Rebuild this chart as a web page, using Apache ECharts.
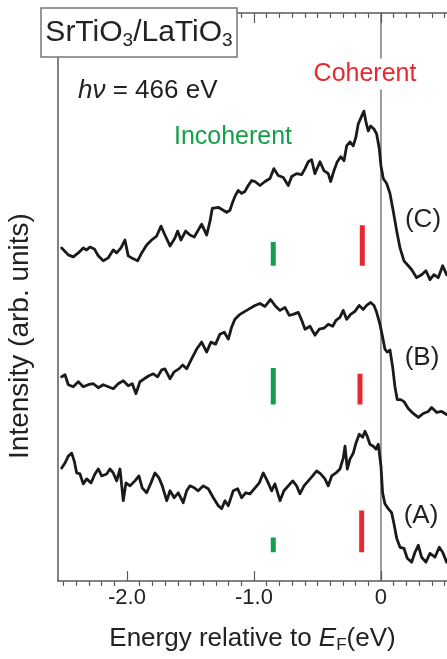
<!DOCTYPE html>
<html><head><meta charset="utf-8">
<script src="https://cdn.jsdelivr.net/npm/echarts@6/dist/echarts.min.js"></script>
<style>html,body{margin:0;padding:0;background:#fff}#c{width:447px;height:659px}</style>
</head><body><div id="c"></div>
<script>
// ---- axis ticks (eV) ----
const majorTicks = [-2, -1, 0];
const tickLabels = ['-2.0', '-1.0', '0'];
const minorTicks = [-2.5,-2.4,-2.3,-2.2,-2.1,-1.9,-1.8,-1.7,-1.6,-1.5,-1.4,-1.3,-1.2,-1.1,-0.9,-0.8,-0.7,-0.6,-0.5,-0.4,-0.3,-0.2,-0.1,0.1,0.2,0.3,0.4,0.5];
const energyMin = -2.543, energyMax = 0.52;
const intensityMin = 0, intensityMax = 573;

// ---- spectrum (C) ----
const cEnergy = [-2.514,-2.462,-2.423,-2.383,-2.344,-2.317,-2.291,-2.257,-2.226,-2.187,
-2.147,-2.108,-2.081,-2.047,-2.016,-1.990,-1.950,-1.916,-1.884,-1.845,
-1.806,-1.766,-1.732,-1.701,-1.661,-1.622,-1.601,-1.575,-1.538,-1.504,
-1.470,-1.439,-1.412,-1.372,-1.346,-1.328,-1.281,-1.242,-1.215,-1.189,
-1.171,-1.150,-1.124,-1.097,-1.071,-1.045,-1.018,-0.992,-0.953,-0.913,
-0.874,-0.843,-0.809,-0.769,-0.730,-0.703,-0.664,-0.624,-0.598,-0.572,
-0.546,-0.520,-0.480,-0.449,-0.415,-0.396,-0.370,-0.344,-0.317,-0.291,
-0.270,-0.244,-0.218,-0.197,-0.179,-0.152,-0.134,-0.118,-0.100,-0.081,
-0.055,-0.034,-0.013,0.000,0.018,0.045,0.071,0.097,0.124,0.150,
0.181,0.215,0.242,0.281,0.320,0.354,0.386,0.417,0.451,0.486,0.517];
const cIntensity = [336,329,327,331,336,334,337,335,328,323,
326,334,331,336,344,328,325,323,331,339,
344,348,358,349,338,346,353,344,353,349,
347,354,360,349,363,376,377,374,372,374,
381,388,394,391,393,399,404,403,399,403,
406,416,409,407,399,408,411,410,416,423,
425,411,423,414,411,403,414,423,428,424,
439,443,439,448,461,469,474,463,454,459,
456,451,436,419,406,401,391,373,353,336,
323,318,314,306,309,313,304,309,306,318,309];

// ---- spectrum (B) ----
const bEnergy = [-2.514,-2.488,-2.462,-2.423,-2.383,-2.344,-2.305,-2.265,-2.226,-2.187,
-2.147,-2.108,-2.069,-2.029,-1.990,-1.958,-1.929,-1.898,-1.864,-1.827,
-1.793,-1.758,-1.727,-1.701,-1.661,-1.628,-1.591,-1.561,-1.530,-1.491,
-1.451,-1.412,-1.372,-1.339,-1.302,-1.268,-1.234,-1.202,-1.176,-1.150,
-1.110,-1.071,-1.031,-0.992,
-0.953,-0.913,-0.869,-0.835,-0.795,-0.756,-0.722,-0.691,-0.651,-0.624,
-0.598,-0.559,-0.520,-0.486,-0.449,-0.415,-0.380,-0.354,-0.323,-0.297,
-0.270,-0.239,-0.205,-0.171,-0.139,-0.113,-0.081,-0.055,-0.034,-0.008,
0.013,0.031,0.050,0.071,0.092,0.110,0.128,0.155,0.181,0.215,
0.254,0.294,0.333,0.372,0.399,0.439,0.478,0.517];
const bIntensity = [206,208,198,196,201,196,198,199,195,198,
196,194,199,202,197,199,189,201,204,207,
209,206,213,214,204,211,214,218,214,224,
234,241,231,241,239,249,251,244,256,264,
269,272,275,278,
280,277,284,278,273,276,268,269,271,263,
254,257,248,254,255,259,257,263,266,273,
264,269,272,278,274,278,281,278,271,259,
246,234,231,233,216,196,183,183,181,174,
169,165,169,171,175,170,171,168];

// ---- spectrum (A) ----
const aEnergy = [-2.514,-2.488,-2.462,-2.435,-2.415,-2.396,-2.370,-2.344,-2.317,-2.283,
-2.252,-2.226,-2.199,-2.160,-2.134,-2.108,-2.081,-2.055,-2.029,-2.008,
-1.976,-1.937,-1.906,-1.880,-1.845,-1.811,-1.780,-1.748,-1.722,-1.687,
-1.661,-1.628,-1.596,-1.557,-1.530,-1.504,-1.470,-1.439,-1.399,-1.360,
-1.320,-1.281,-1.254,-1.228,-1.202,-1.163,-1.128,-1.097,-1.065,-1.031,-0.998,
-0.958,-0.927,-0.895,-0.861,-0.835,-0.795,-0.764,-0.730,-0.695,-0.664,
-0.638,-0.606,-0.572,-0.538,-0.506,-0.475,-0.441,-0.415,-0.388,-0.354,
-0.323,-0.297,-0.283,-0.265,-0.244,-0.218,-0.197,-0.171,-0.144,-0.126,
-0.108,-0.087,-0.061,-0.039,-0.021,-0.008,0.000,0.013,0.031,0.057,
0.084,0.102,0.124,0.150,0.181,0.207,0.242,0.268,0.294,0.320,
0.354,0.386,0.425,0.459,0.486,0.517];
const aIntensity = [114,119,126,129,121,109,108,98,103,99,
108,113,106,108,113,109,101,113,81,99,
96,101,106,94,89,99,109,104,96,81,
91,84,89,79,91,96,94,91,96,93,
84,76,73,81,76,91,93,84,89,88,93,
99,109,101,91,98,81,91,96,101,96,
88,96,101,106,111,108,103,96,106,109,
113,124,136,113,123,129,139,148,145,151,
146,138,136,133,138,139,116,89,78,73,
69,58,43,34,33,23,19,29,36,24,
19,28,24,34,29,19];

// ---- marker bars (energy, low, high) ----
const incoherentEnergy = -0.848;
const coherentEnergy = { A: -0.152, B: -0.165, C: -0.147 };
const incoherentRange = { A: [29, 44], B: [178, 215], C: [318, 342] };
const coherentRange = { A: [29, 71], B: [178, 209], C: [318, 359] };

const FONT = "'Liberation Sans', Arial, Helvetica, sans-serif";
const GREEN = '#14a04a', RED = '#e6282f', INK = '#1a1a1a', AXIS = '#5a5a5a';

function pairs(e, v) { return e.map((x, k) => [x, v[k]]); }

const spectrumStyle = { color: INK, width: 2.8, join: 'round', cap: 'round' };
function spectrum(name, e, v) {
  return { name, type: 'line', xAxisIndex: 0, yAxisIndex: 0, data: pairs(e, v),
    symbol: 'none', showSymbol: false, lineStyle: spectrumStyle, z: 3, silent: true };
}
function bar(name, x, r, color) {
  return { name, type: 'line', xAxisIndex: 0, yAxisIndex: 0, data: [[x, r[0]], [x, r[1]]],
    symbol: 'none', lineStyle: { color, width: 5, cap: 'butt' }, z: 2, silent: true };
}

const series = [
  { name: 'EF', type: 'line', xAxisIndex: 0, yAxisIndex: 0, data: [[0, intensityMin], [0, intensityMax]],
    symbol: 'none', lineStyle: { color: AXIS, width: 1.2 }, z: 1, silent: true },
  spectrum('C', cEnergy, cIntensity),
  spectrum('B', bEnergy, bIntensity),
  spectrum('A', aEnergy, aIntensity)
];
['A', 'B', 'C'].forEach(k => {
  series.push(bar('inc' + k, incoherentEnergy, incoherentRange[k], GREEN));
  series.push(bar('coh' + k, coherentEnergy[k], coherentRange[k], RED));
});

const gridRect = { left: 58, right: 0, top: 13, bottom: 73 };
function xAx(grid, pos, ticks, len, line, labels) {
  const ax = { type: 'value', gridIndex: grid, position: pos, min: energyMin, max: energyMax,
    axisLine: { show: line, onZero: false, lineStyle: { color: AXIS, width: 1.5 } },
    axisTick: { show: true, inside: true, length: len, customValues: ticks, lineStyle: { color: AXIS, width: 1.2 } },
    axisLabel: { show: false }, splitLine: { show: false } };
  if (labels) {
    ax.axisLabel = { show: true, customValues: majorTicks, margin: 6, fontSize: 22, fontFamily: FONT, color: '#222',
      formatter: v => { const i = majorTicks.findIndex(t => Math.abs(t - v) < 1e-6); return i >= 0 ? tickLabels[i] : ''; } };
    ax.name = '{n|Energy relative to }{i|E}{s|F}{n|(eV)}';
    ax.nameLocation = 'middle';
    ax.nameGap = 43;
    ax.nameTextStyle = { rich: {
      n: { fontSize: 26, fontFamily: FONT, color: '#222', lineHeight: 30 },
      i: { fontSize: 26, fontFamily: FONT, color: '#222', fontStyle: 'italic', lineHeight: 30 },
      s: { fontSize: 17, fontFamily: FONT, color: '#222', lineHeight: 12, verticalAlign: 'bottom' } } };
  }
  return ax;
}

const option = {
  animation: false,
  backgroundColor: '#fff',
  grid: [Object.assign({}, gridRect), Object.assign({}, gridRect)],
  xAxis: [
    xAx(0, 'bottom', majorTicks, 10, true, true),
    xAx(0, 'top', majorTicks, 10, true, false),
    xAx(1, 'bottom', minorTicks, 5, false, false),
    xAx(1, 'top', minorTicks, 5, false, false)
  ],
  yAxis: [
    { type: 'value', gridIndex: 0, min: intensityMin, max: intensityMax,
      axisLine: { show: true, onZero: false, lineStyle: { color: AXIS, width: 1.5 } },
      axisTick: { show: false }, axisLabel: { show: false }, splitLine: { show: false } },
    { type: 'value', gridIndex: 1, min: intensityMin, max: intensityMax, show: false }
  ],
  series,
  graphic: { elements: [
    { type: 'text', z: 101, x: 20, y: 336, rotation: Math.PI / 2,
      style: { text: 'Intensity (arb. units)', align: 'center', verticalAlign: 'middle',
        fontSize: 28, fontFamily: FONT, fill: '#222' } },
    { type: 'rect', z: 100, shape: { x: 41, y: 8, width: 196, height: 49 },
      style: { fill: '#fff', stroke: '#777', lineWidth: 1.5 } },
    { type: 'text', z: 101, x: 139, y: 33,
      style: { text: '{a|SrTiO}{b|3}{a|/LaTiO}{b|3}', align: 'center', verticalAlign: 'middle',
        rich: { a: { fontSize: 30, fontFamily: FONT, fill: '#222', lineHeight: 34 },
                b: { fontSize: 19, fontFamily: FONT, fill: '#222', lineHeight: 12, verticalAlign: 'bottom' } } } },
    { type: 'text', z: 101, x: 78, y: 91,
      style: { text: '{i|hν}{n| = 466 eV}', align: 'left', verticalAlign: 'middle',
        rich: { i: { fontSize: 26, fontFamily: FONT, fill: '#222', fontStyle: 'italic' },
                n: { fontSize: 26, fontFamily: FONT, fill: '#222' } } } },
    { type: 'text', z: 101, x: 365, y: 74,
      style: { text: 'Coherent', align: 'center', verticalAlign: 'middle', fontSize: 25, fontFamily: FONT,
        fill: RED, backgroundColor: '#fff', padding: [3, 0, 1, 0], lineHeight: 27 } },
    { type: 'text', z: 101, x: 233, y: 137,
      style: { text: 'Incoherent', align: 'center', verticalAlign: 'middle', fontSize: 25, fontFamily: FONT, fill: GREEN } },
    { type: 'text', z: 101, x: 423, y: 220,
      style: { text: '(C)', align: 'center', verticalAlign: 'middle', fontSize: 26, fontFamily: FONT, fill: '#222' } },
    { type: 'text', z: 101, x: 422, y: 358,
      style: { text: '(B)', align: 'center', verticalAlign: 'middle', fontSize: 26, fontFamily: FONT, fill: '#222' } },
    { type: 'text', z: 101, x: 421, y: 516,
      style: { text: '(A)', align: 'center', verticalAlign: 'middle', fontSize: 26, fontFamily: FONT, fill: '#222' } }
  ] }
};
const chart = echarts.init(document.getElementById('c'), null, { renderer: 'canvas' });
chart.setOption(option);
</script></body></html>
